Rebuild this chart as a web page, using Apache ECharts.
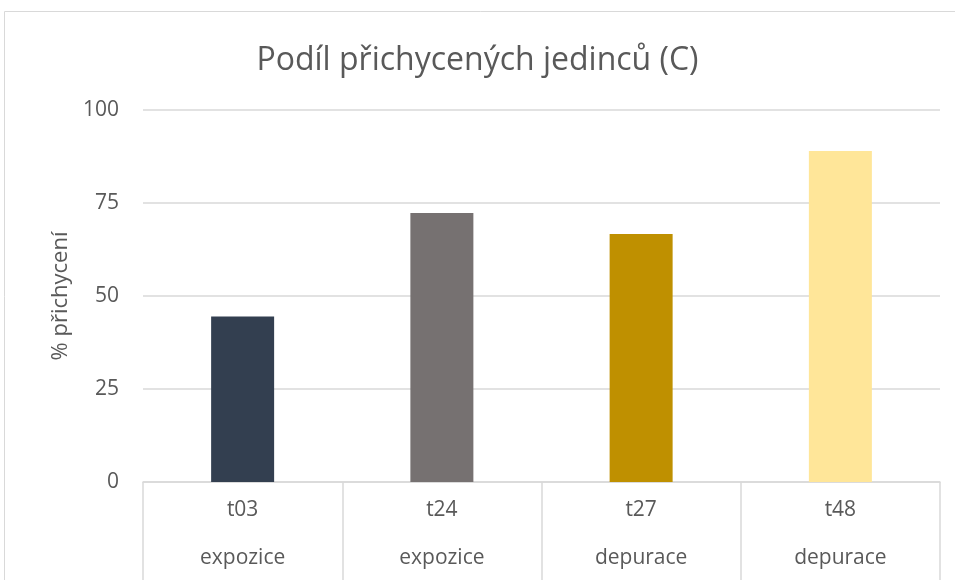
<!DOCTYPE html>
<html>
<head>
<meta charset="utf-8">
<script src="https://cdn.jsdelivr.net/npm/echarts@6/dist/echarts.min.js"></script>
<style>
html,body{margin:0;padding:0;background:#fff;}
#main{width:955px;height:580px;}
</style>
</head>
<body>
<div id="main"></div>
<script>
// data
var categories = ["t03", "t24", "t27", "t48"];
var groups = ["expozice", "expozice", "depurace", "depurace"];
var values = [44.5, 72.3, 66.7, 89.0];
var barColors = ["#333f50", "#767171", "#bf9000", "#ffe699"];
var yTicks = [0, 25, 50, 75, 100];

var chart = echarts.init(document.getElementById("main"));
var font = "'Open Sans', 'Noto Sans', sans-serif";

var option = {
	animation: false,
	textStyle: { fontFamily: font },
	title: {
		text: "Podíl přichycených jedinců (C)",
		left: "center",
		top: 40,
		textStyle: { fontSize: 32, fontWeight: "normal", color: "#595959", fontFamily: font }
	},
	graphic: [{
		type: "rect",
		shape: { x: 4.5, y: 11.5, width: 1000, height: 1000 },
		style: { fill: "none", stroke: "#d9d9d9", lineWidth: 1 },
		silent: true
	}],
	grid: { left: 143, right: 15, top: 110, bottom: 98 },
	xAxis: [{
		type: "category",
		data: categories,
		axisLine: { lineStyle: { color: "#d9d9d9", width: 1.5 } },
		axisTick: { show: true, length: 100, lineStyle: { color: "#d9d9d9", width: 1.5 } },
		axisLabel: { color: "#595959", fontSize: 21, margin: 18 }
	}, {
		type: "category",
		data: groups,
		position: "bottom",
		axisLine: { show: false },
		axisTick: { show: false },
		axisLabel: { color: "#595959", fontSize: 21, margin: 66, interval: 0 }
	}],
	yAxis: {
		type: "value",
		min: yTicks[0],
		max: yTicks[yTicks.length - 1],
		interval: 25,
		name: "% přichycení",
		nameLocation: "middle",
		nameGap: 70,
		nameTextStyle: { color: "#595959", fontSize: 22, fontFamily: font },
		axisLine: { show: false },
		axisTick: { show: false },
		axisLabel: { color: "#595959", fontSize: 21, margin: 24 },
		splitLine: { lineStyle: { color: "#d9d9d9", width: 1.5 } }
	},
	series: [{
		type: "bar",
		xAxisIndex: 0,
		barWidth: 63,
		data: values.map(function (v, i) {
			return { value: v, itemStyle: { color: barColors[i] } };
		})
	}]
};

chart.setOption(option);
</script>
</body>
</html>
